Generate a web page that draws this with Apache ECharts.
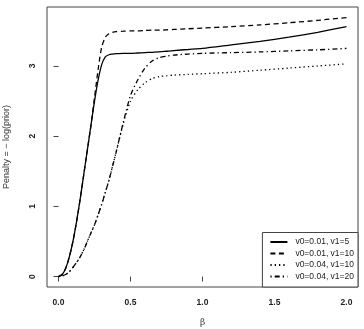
<!DOCTYPE html>
<html>
<head>
<meta charset="utf-8">
<script src="https://cdn.jsdelivr.net/npm/echarts@6/dist/echarts.min.js"></script>
<style>
  html, body { margin: 0; padding: 0; background: #fff; }
  #chart { width: 364px; height: 329px; }
</style>
</head>
<body>
<div id="chart"></div>
<script>
var beta = [0, 0.025, 0.05, 0.075, 0.1, 0.125, 0.15, 0.175, 0.2, 0.225, 0.25, 0.275, 0.3, 0.325, 0.35, 0.375,
    0.4, 0.45, 0.5, 0.55, 0.6, 0.65, 0.7, 0.75, 0.8, 0.9, 1.0, 1.2, 1.4, 1.6, 1.8, 2.0];

var pen_01_5 = [0, 0.03, 0.12, 0.28, 0.5, 0.78, 1.1, 1.45, 1.8, 2.15, 2.5, 2.8, 3.02, 3.13, 3.16, 3.17,
    3.175, 3.18, 3.18, 3.185, 3.19, 3.195, 3.2, 3.21, 3.22, 3.235, 3.25, 3.3, 3.35, 3.41, 3.48, 3.56];
var pen_01_10 = [0, 0.03, 0.12, 0.28, 0.5, 0.78, 1.1, 1.45, 1.8, 2.15, 2.55, 2.95, 3.27, 3.41, 3.46, 3.48,
    3.49, 3.495, 3.5, 3.5, 3.505, 3.51, 3.51, 3.515, 3.52, 3.53, 3.54, 3.56, 3.585, 3.615, 3.65, 3.69];
var pen_04_10 = [0, 0.01, 0.03, 0.07, 0.13, 0.2, 0.28, 0.38, 0.5, 0.62, 0.74, 0.88, 1.03, 1.2, 1.37, 1.57,
    1.77, 2.18, 2.5, 2.66, 2.76, 2.82, 2.85, 2.86, 2.87, 2.88, 2.89, 2.91, 2.94, 2.97, 3.0, 3.03];
var pen_04_20 = [0, 0.01, 0.03, 0.07, 0.13, 0.2, 0.28, 0.38, 0.5, 0.62, 0.74, 0.88, 1.03, 1.2, 1.37, 1.57,
    1.77, 2.2, 2.58, 2.8, 2.97, 3.07, 3.12, 3.14, 3.155, 3.17, 3.18, 3.19, 3.2, 3.215, 3.23, 3.25];

var names = ['v0=0.01, v1=5', 'v0=0.01, v1=10', 'v0=0.04, v1=10', 'v0=0.04, v1=20'];
var dashes = ['solid', [5, 3.5], [1.3, 3], [1.3, 3, 5, 3]];
var xTicks = [0, 0.5, 1, 1.5, 2];
var yTicks = [0, 1, 2, 3];

function pairs(ys) {
    var out = [];
    for (var i = 0; i < beta.length; i++) out.push([beta[i], ys[i]]);
    return out;
}

var myChart = echarts.init(document.getElementById('chart'));
var frame = '#444';
var series = [];
var allY = [pen_01_5, pen_01_10, pen_04_10, pen_04_20];
for (var i = 0; i < allY.length; i++) {
    series.push({
        name: names[i],
        type: 'line',
        data: pairs(allY[i]),
        symbol: 'none',
        smooth: 0.25,
        lineStyle: { color: '#000', width: 1.3, type: dashes[i] },
        itemStyle: { color: '#000' }
    });
}

var option = {
    backgroundColor: '#fff',
    animation: false,
    grid: {
        left: 47, top: 7, width: 311, height: 280,
        outerBoundsMode: 'none',
        containLabel: false,
        show: true, borderColor: frame, borderWidth: 1, backgroundColor: 'transparent'
    },
    legend: {
        orient: 'vertical',
        right: 6,
        bottom: 42,
        data: names,
        itemWidth: 17,
        itemHeight: 8,
        itemGap: 2.5,
        padding: [5, 4, 6, 7],
        borderColor: frame,
        borderWidth: 1,
        borderRadius: 0,
        backgroundColor: '#fff',
        itemStyle: { color: 'transparent', borderColor: 'transparent', borderWidth: 0, opacity: 0 },
        textStyle: { fontFamily: 'Liberation Sans', fontSize: 8.5, color: '#222', lineHeight: 9, padding: [0, 0, 0, 3] }
    },
    xAxis: {
        type: 'value',
        min: -0.08,
        max: 2.08,
        name: 'β',
        nameLocation: 'middle',
        nameGap: 31,
        nameTextStyle: { fontFamily: 'DejaVu Serif', fontSize: 9, color: '#333' },
        axisLine: { show: false },
        splitLine: { show: false },
        axisTick: { show: true, length: 5, customValues: xTicks, lineStyle: { color: frame } },
        axisLabel: {
            customValues: xTicks, margin: 11,
            fontFamily: 'Liberation Sans', fontSize: 8.5, fontWeight: 'bold', color: '#222',
            formatter: function (v) { return v.toFixed(1); }
        }
    },
    yAxis: {
        type: 'value',
        min: -0.148,
        max: 3.84,
        name: 'Penalty = − log(prior)',
        nameLocation: 'middle',
        nameRotate: 90,
        nameGap: 36,
        nameTextStyle: { fontFamily: 'Liberation Sans', fontSize: 9, color: '#333' },
        axisLine: { show: false },
        splitLine: { show: false },
        axisTick: { show: true, length: 5, customValues: yTicks, lineStyle: { color: frame } },
        axisLabel: {
            customValues: yTicks, margin: 10, rotate: 90,
            fontFamily: 'Liberation Sans', fontSize: 8.5, fontWeight: 'bold', color: '#222'
        }
    },
    series: series
};

myChart.setOption(option);
</script>
</body>
</html>
